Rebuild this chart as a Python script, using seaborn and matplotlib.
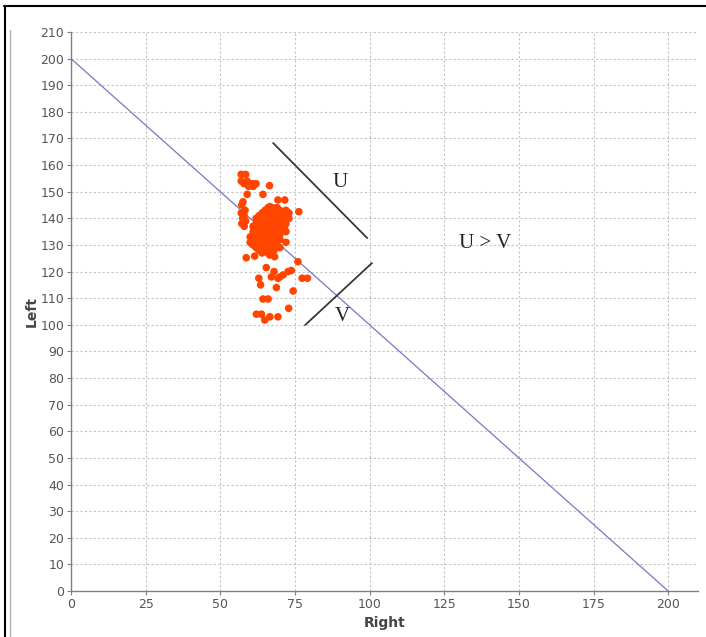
import matplotlib
matplotlib.use("Agg")
import matplotlib.pyplot as plt
from matplotlib.lines import Line2D
import seaborn as sns
import pandas as pd

# ---- data ----
outer_x = [57, 58.5, 57, 58, 59, 60, 61, 62, 59.5, 61, 66.5, 64.3, 59,
           57.6, 57.2, 58.3, 57, 58, 57.5, 58.5, 57.2, 58,
           58.7, 61.5, 65.4, 66.6, 68.2, 76, 62.9, 67.1, 69.3, 71, 72.7, 73.8,
           77.4, 79.2, 63.5, 68.8, 74.4, 64.3, 66, 72.9, 62.1, 63.8, 64.9,
           66.6, 69.3, 76.3, 69.3, 71.6, 66.6, 60.5, 68, 70]
outer_y = [156.5, 156.5, 154, 153, 154, 153, 153, 153, 152, 152, 152.3, 149, 149,
           146.2, 145, 143, 142, 141, 140, 139, 138, 137,
           125.2, 125.8, 121.5, 126.2, 125.6, 123.7, 117.5, 118, 117.5, 118.7, 120, 120.4,
           117.5, 117.5, 115, 114, 112.7, 109.7, 109.7, 106.2, 104, 104, 101.8,
           103, 103, 142.5, 146.9, 146.9, 144.4, 130.5, 120, 118]

cluster_rows = {
    144: [66, 67.5, 69],
    143: [65, 68, 70, 72],
    142: [64, 66, 67, 69, 71, 73],
    141: [63, 65, 66.5, 68, 70, 72],
    140: [62, 64, 65, 67, 68.5, 70, 71.5, 73],
    139: [63, 64.5, 66, 67.5, 69, 71],
    138: [62, 63.5, 65, 66, 67, 68, 70, 72],
    137: [61, 63, 64, 65.5, 67, 68.5, 70, 71.5],
    136: [62, 63.5, 65, 66, 67, 69, 70.5],
    135: [61, 62.5, 64, 65, 66.5, 68, 69, 72],
    134: [61, 62, 63.5, 65, 66, 67.5, 69, 70],
    133: [60, 62, 63, 64.5, 66, 67, 68.5],
    132: [61, 62.5, 64, 65, 66.5, 68, 70],
    131: [60, 61.5, 63, 64, 65.5, 67, 69, 72],
    130: [61, 62, 63.5, 65, 66.5, 68],
    129: [62, 64, 65, 67, 70],
    128: [63, 65, 66, 68],
    127: [64, 66, 67],
}
cluster_x = [x for yv, xs in cluster_rows.items() for x in xs]
cluster_y = [yv for yv, xs in cluster_rows.items() for x in xs]

right_vals = outer_x + cluster_x
left_vals = outer_y + cluster_y

boundary_x = [0, 200]
boundary_y = [200, 0]
u_line_x = [67.7, 99.2]
u_line_y = [168.3, 132.6]
v_line_x = [78.4, 100.8]
v_line_y = [99.9, 123.2]

x_ticks = [0, 25, 50, 75, 100, 125, 150, 175, 200]
y_ticks = list(range(0, 211, 10))

df = pd.DataFrame({"Right": right_vals, "Left": left_vals})
df_line = pd.DataFrame({"x": boundary_x, "y": boundary_y})

# ---- plot ----
sns.set_style("white")
plt.rcParams['font.family'] = ['DejaVu Sans']
fig = plt.figure(figsize=(7.06, 6.37), dpi=100)
ax = fig.add_axes([71/706, 1 - 591/637, (698 - 71)/706, (591 - 32)/637])

ax.set_xlim(0, 210)
ax.set_ylim(0, 210)
ax.set_xticks(x_ticks)
ax.set_yticks(y_ticks)
ax.grid(True, color="#c4c4c4", linestyle=(0, (2, 2)), linewidth=0.8)
ax.set_axisbelow(True)

sns.lineplot(data=df_line, x="x", y="y", ax=ax, color="#7777c4", linewidth=0.9, zorder=2)
sns.scatterplot(data=df, x="Right", y="Left", ax=ax, color="#ff4500", s=30,
                edgecolor="none", linewidth=0, zorder=3)
ax.plot(u_line_x, u_line_y, color="#383838", linewidth=1.3, zorder=4)
ax.plot(v_line_x, v_line_y, color="#383838", linewidth=1.3, zorder=4)

serif = ['Liberation Serif', 'DejaVu Serif']
ax.text(90.1, 153.3, "U", family=serif, fontsize=15, color="#222222",
        ha="center", va="center")
ax.text(90.8, 103.3, "V", family=serif, fontsize=15, color="#222222",
        ha="center", va="center")
ax.text(138.7, 130.7, "U > V", family=serif, fontsize=15, color="#222222",
        ha="center", va="center")

for side in ["top", "right"]:
    ax.spines[side].set_visible(False)
for side in ["left", "bottom"]:
    ax.spines[side].set_color("#808080")
    ax.spines[side].set_linewidth(1.0)
ax.tick_params(axis="both", which="both", direction="out", length=3, width=0.8,
               color="#808080", labelcolor="#555555", labelsize=9, pad=2,
               left=True, bottom=True)

ax.set_xlabel("Right", fontsize=10, color="#444444", fontweight="semibold", labelpad=4)
ax.set_ylabel("Left", fontsize=10, color="#444444", fontweight="semibold", labelpad=1)

# screenshot frame lines
fig.add_artist(Line2D([4/706, 1.0], [1 - 6/637, 1 - 6/637], color="black", linewidth=1.5))
fig.add_artist(Line2D([4.5/706, 4.5/706], [0, 1 - 6/637], color="black", linewidth=1.5))
fig.add_artist(Line2D([9.5/706, 9.5/706], [0, 1 - 30/637], color="#b0b0b0", linewidth=1.0))

fig.savefig("out.png", dpi=100)
